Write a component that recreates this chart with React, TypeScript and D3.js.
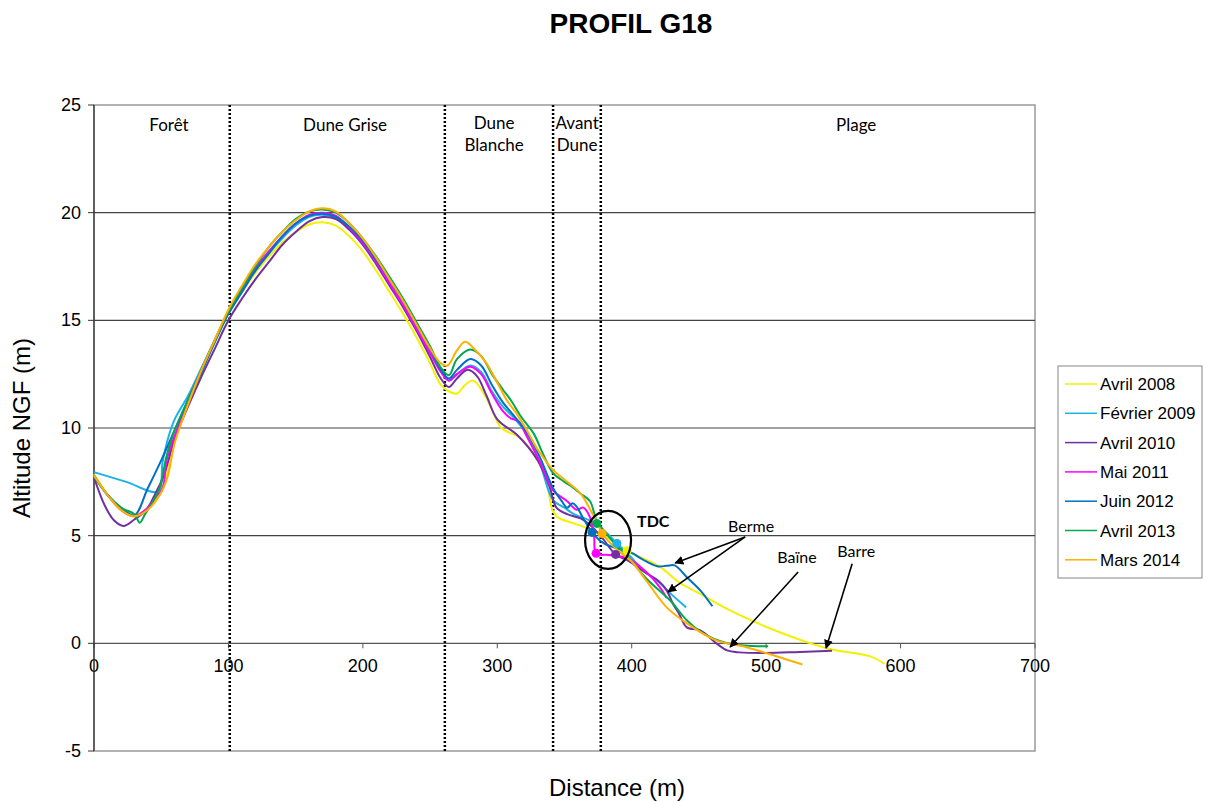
import React from "react";
import * as d3 from "d3";

type P = [number, number];

const seriesNames = ["Avril 2008", "Février 2009", "Avril 2010", "Mai 2011", "Juin 2012", "Avril 2013", "Mars 2014"];
const seriesColors = ["#F2F200", "#1AB2E8", "#7030A0", "#FF00FF", "#0070C0", "#00A850", "#FFB000"];

const avril2008: P[] = [[0,7.85],[10,6.9],[20,6.2],[30,5.95],[40,6.3],[50,7.1],[56,8.3],[62,9.8],[70,11.1],[80,12.6],[90,14.0],[100,15.3],[110,16.3],[120,17.2],[130,17.95],[140,18.6],[150,19.1],[160,19.45],[170,19.55],[180,19.4],[190,18.9],[200,18.2],[210,17.3],[220,16.3],[230,15.3],[240,14.2],[250,13.0],[258,12.0],[264,11.7],[270,11.6],[276,12.0],[282,12.2],[288,11.8],[295,11.0],[303,10.0],[317,9.55],[327,8.8],[334,8.0],[338,7.1],[341,6.2],[345,5.85],[358,5.55],[369,5.3],[385,4.8],[396,4.3],[410,3.9],[421,3.55],[436,2.8],[451,2.3],[471,1.6],[495,0.9],[515,0.4],[533,0.0],[550,-0.3],[565,-0.45],[578,-0.62],[588,-0.95]];
const fevrier2009: P[] = [[0,7.95],[24,7.5],[47.6,7.05],[51,8.4],[55,9.5],[60,10.4],[70,11.5],[80,12.8],[90,14.1],[100,15.4],[110,16.4],[120,17.3],[130,18.1],[140,18.8],[150,19.4],[160,19.8],[170,19.9],[180,19.75],[190,19.25],[200,18.6],[210,17.7],[220,16.8],[230,15.8],[240,14.7],[250,13.6],[258,12.7],[264,12.2],[270,12.5],[280,12.9],[288,12.6],[296,11.7],[304,11.0],[312,10.5],[322,9.7],[332,8.3],[341.5,6.65],[350,6.3],[357,6.0],[369,5.7],[380,5.2],[389,4.64],[398,4.1],[408.5,3.4],[421,2.8],[430,2.25],[440.5,1.67]];
const avril2010: P[] = [[0,7.7],[8,6.4],[15,5.7],[22,5.45],[30,5.75],[39,6.2],[46,7.0],[52,7.8],[60,9.5],[70,11.0],[80,12.4],[90,13.7],[100,15.0],[110,16.0],[120,16.9],[130,17.7],[140,18.5],[150,19.1],[160,19.6],[170,19.8],[180,19.7],[190,19.2],[200,18.5],[210,17.6],[220,16.6],[230,15.6],[240,14.5],[250,13.3],[258,12.3],[264,11.9],[270,12.3],[278,12.7],[285,12.4],[292,11.5],[300,10.4],[315,9.66],[330,8.5],[339,7.25],[344,6.3],[352,6.0],[362,5.8],[369,5.5],[378,4.9],[388,4.13],[397,3.85],[411,3.25],[420,2.9],[426,2.46],[431,1.8],[435,1.4],[441,0.74],[451,0.6],[463,0.0],[471,-0.33],[480,-0.42],[500,-0.45],[525,-0.4],[549,-0.35]];
const mai2011: P[] = [[0,7.75],[10,6.9],[20,6.2],[30,5.9],[40,6.3],[46,6.8],[51,7.2],[54,8.5],[58,9.3],[62,9.95],[70,11.3],[80,12.7],[90,14.1],[100,15.4],[110,16.5],[120,17.4],[130,18.2],[140,18.9],[150,19.5],[160,19.9],[170,20.0],[180,19.85],[190,19.3],[200,18.6],[210,17.7],[220,16.7],[230,15.7],[240,14.6],[250,13.5],[258,12.6],[264,12.2],[270,12.5],[280,12.85],[288,12.5],[296,11.6],[304,10.8],[310,10.45],[316,10.3],[322,9.6],[332,8.4],[341.5,7.1],[352,6.6],[359,6.2],[364,6.3],[369,5.85],[372,5.0],[373.5,4.18],[383,4.1],[397,3.95],[411,3.3],[421,2.6],[426,2.1]];
const juin2012: P[] = [[0,7.8],[10,6.9],[20,6.3],[30,5.95],[40,7.2],[50,8.5],[60,9.9],[70,11.3],[80,12.6],[90,14.0],[100,15.3],[110,16.3],[120,17.3],[130,18.1],[140,18.9],[150,19.5],[160,19.85],[170,19.95],[180,19.8],[190,19.35],[200,18.7],[210,17.8],[220,16.9],[230,15.9],[240,14.8],[250,13.7],[258,12.7],[264,12.3],[270,12.7],[280,13.2],[288,12.9],[296,12.0],[304,11.2],[312,10.6],[322,9.8],[332,8.6],[341.5,7.2],[348,6.6],[352,6.3],[356,6.5],[359,6.35],[364,5.8],[370.5,5.15],[379,4.65],[392,4.35],[400,4.2],[408,3.9],[419,3.58],[426,3.6],[432,3.62],[441,3.07],[451,2.46],[460,1.72]];
const avril2013: P[] = [[0,7.75],[10,6.9],[20,6.3],[30,6.0],[34,5.6],[38,6.0],[44,6.6],[49,7.25],[54,8.7],[60,9.9],[70,11.3],[80,12.7],[90,14.1],[100,15.4],[110,16.5],[120,17.5],[130,18.4],[140,19.1],[150,19.7],[160,20.05],[170,20.15],[180,20.0],[190,19.5],[200,18.8],[210,17.95],[220,17.0],[230,16.0],[240,14.9],[250,13.8],[258,12.8],[264,12.45],[270,13.2],[280,13.65],[288,13.35],[296,12.5],[304,11.8],[310,11.3],[318,10.5],[327,9.75],[334,8.8],[341.5,7.9],[350,7.5],[356,7.25],[362,6.95],[369,6.6],[374,5.7],[385,4.8],[396,4.1],[411,3.0],[428.5,2.0],[441,1.07],[453,0.46],[471,0.0],[480,-0.08],[490,-0.12],[501.5,-0.14]];
const mars2014: P[] = [[0,7.8],[10,6.9],[20,6.2],[30,5.9],[40,6.2],[50,7.0],[55,7.8],[60,9.3],[70,11.1],[80,12.7],[90,14.1],[100,15.5],[110,16.6],[120,17.6],[130,18.4],[140,19.1],[150,19.65],[160,20.05],[170,20.2],[180,20.05],[190,19.5],[200,18.8],[210,17.9],[220,16.9],[230,15.9],[240,14.8],[250,13.7],[258,13.0],[263,12.9],[270,13.6],[276,14.0],[284,13.6],[292,13.0],[300,12.1],[307,11.3],[314,10.7],[322,9.9],[329,9.1],[334,8.65],[341.5,8.05],[352,7.5],[362,6.95],[371,6.0],[374,5.7],[378,5.1],[390,4.3],[400,3.8],[411,2.9],[426,1.67],[441,0.93],[463,0.14],[486,-0.19],[510,-0.65],[527,-0.98]];

const seriesData: P[][] = [avril2008, fevrier2009, avril2010, mai2011, juin2012, avril2013, mars2014];
// TDC markers (trait de côte) per series
const tdcPoints: P[] = [[396.5,4.3],[389,4.64],[388,4.13],[373.5,4.18],[370.5,5.15],[374,5.57],[378,5.1]];

const xTicks = [0, 100, 200, 300, 400, 500, 600, 700];
const yTicks = [-5, 0, 5, 10, 15, 20, 25];
const zoneBounds = [101, 261, 341.5, 377];
const zoneLabels: { lines: string[]; d: number }[] = [
  { lines: ["Forêt"], d: 55.8 },
  { lines: ["Dune Grise"], d: 186.8 },
  { lines: ["Dune", "Blanche"], d: 297.6 },
  { lines: ["Avant", "Dune"], d: 359.4 },
  { lines: ["Plage"], d: 567 },
];
const annotations: { text: string; at: P; arrows: [P, P][] }[] = [
  { text: "Berme", at: [488.8, 5.4], arrows: [[[484.4, 4.94], [432.3, 3.73]], [[484.4, 4.94], [427, 2.39]]] },
  { text: "Baïne", at: [522.9, 3.95], arrows: [[[523.8, 3.31], [473.2, -0.17]]] },
  { text: "Barre", at: [567, 4.25], arrows: [[[564, 3.7], [544.6, -0.22]]] },
];

const W = 1208, H = 801;
const x = d3.scaleLinear().domain([0, 700]).range([94, 1035]);
const y = d3.scaleLinear().domain([-5, 25]).range([751, 105]);
const ARIAL = "'Liberation Sans', Arial, sans-serif";
const CAL = "Lato, 'Open Sans', sans-serif";

export default function App() {
  const line = d3.line<P>().x(d => x(d[0])).y(d => y(d[1])).curve(d3.curveCatmullRom.alpha(0.5));
  const [x0, x1] = x.range();
  const [yb, yt] = y.range();
  return (
    <svg width={W} height={H} style={{ position: "absolute", left: 0, top: 0, background: "#fff" }} fontFamily={ARIAL}>
      <defs>
        <marker id="ah" viewBox="0 0 10 10" refX="9" refY="5" markerWidth="9" markerHeight="9" markerUnits="userSpaceOnUse" orient="auto">
          <path d="M0,0 L10,5 L0,10 z" fill="#000" />
        </marker>
      </defs>
      <text x={631} y={33} textAnchor="middle" fontSize={28} fontWeight="bold">PROFIL G18</text>
      {/* plot frame */}
      <rect x={x0} y={yt} width={x1 - x0} height={yb - yt} fill="none" stroke="#9a9a9a" strokeWidth={1.5} />
      {yTicks.filter(t => t > -5 && t < 25 && t !== 0).map(t => (
        <line key={t} x1={x0} x2={x1} y1={y(t)} y2={y(t)} stroke="#444" strokeWidth={1.2} />
      ))}
      {/* x axis at 0 */}
      <line x1={x0} x2={x1} y1={y(0)} y2={y(0)} stroke="#555" strokeWidth={1.2} />
      {xTicks.map(t => (
        <g key={t}>
          <line x1={x(t)} x2={x(t)} y1={y(0)} y2={y(0) + 5} stroke="#555" />
          <text x={x(t)} y={y(0) + 29} textAnchor="middle" fontSize={18}>{t}</text>
        </g>
      ))}
      {/* y axis */}
      <line x1={x0} x2={x0} y1={yt} y2={yb} stroke="#333" strokeWidth={1.3} />
      {yTicks.map(t => (
        <g key={t}>
          <line x1={x0 - 6} x2={x0} y1={y(t)} y2={y(t)} stroke="#333" />
          <text x={x0 - 13} y={y(t) + 6} textAnchor="end" fontSize={18}>{t}</text>
        </g>
      ))}
      {/* zone boundaries */}
      {zoneBounds.map((b, i) => (
        <line key={i} x1={x(b)} x2={x(b)} y1={yt} y2={yb} stroke="#000" strokeWidth={2.5} strokeDasharray="2,2" />
      ))}
      {zoneLabels.map((z, i) => (
        <text key={i} x={x(z.d)} y={z.lines.length > 1 ? 129 : 131} textAnchor="middle" fontSize={17} fontFamily={CAL}>
          {z.lines.map((l, j) => (
            <tspan key={j} x={x(z.d)} dy={j === 0 ? 0 : 22}>{l}</tspan>
          ))}
        </text>
      ))}
      {/* series */}
      {seriesData.map((s, i) => (
        <path key={i} d={line(s) || ""} fill="none" stroke={seriesColors[i]} strokeWidth={2} />
      ))}
      {tdcPoints.map((p, i) => (
        <circle key={i} cx={x(p[0])} cy={y(p[1])} r={4.5} fill={seriesColors[i]} />
      ))}
      {/* TDC ellipse */}
      <ellipse cx={x(382.4)} cy={y(4.8)} rx={23} ry={29} fill="none" stroke="#000" strokeWidth={2.2} />
      <text x={x(416)} y={y(5.66) + 6} textAnchor="middle" fontSize={16} fontWeight="bold" fontFamily={CAL}>TDC</text>
      {annotations.map((a, i) => (
        <g key={i}>
          <text x={x(a.at[0])} y={y(a.at[1]) + 5} textAnchor="middle" fontSize={16} fontFamily={CAL}>{a.text}</text>
          {a.arrows.map((ar, j) => (
            <line key={j} x1={x(ar[0][0])} y1={y(ar[0][1])} x2={x(ar[1][0])} y2={y(ar[1][1])} stroke="#000" strokeWidth={1.6} markerEnd="url(#ah)" />
          ))}
        </g>
      ))}
      {/* axis titles */}
      <text x={617} y={796} textAnchor="middle" fontSize={24}>Distance (m)</text>
      <text transform="translate(30,428) rotate(-90)" textAnchor="middle" fontSize={24}>Altitude NGF (m)</text>
      {/* legend */}
      <rect x={1058} y={366} width={144} height={212} fill="#fff" stroke="#9a9a9a" strokeWidth={1.2} />
      {seriesNames.map((n, i) => (
        <g key={n}>
          <line x1={1065} x2={1097} y1={384 + i * 29.3} y2={384 + i * 29.3} stroke={seriesColors[i]} strokeWidth={1.5} />
          <text x={1100} y={384 + i * 29.3 + 6} fontSize={17}>{n}</text>
        </g>
      ))}
    </svg>
  );
}
